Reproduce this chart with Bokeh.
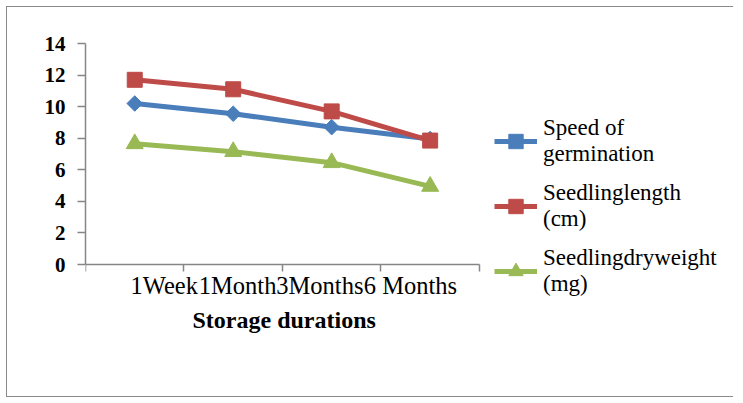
from bokeh.plotting import figure
from bokeh.models import (Range1d, FixedTicker, Legend, LegendItem, ColumnDataSource, Title)
from bokeh.embed import file_html
from bokeh.resources import INLINE
import math

# ---- data ----
categories = ["1Week", "1Month", "3Months", "6 Months"]
speed_of_germination = [10.2, 9.55, 8.7, 7.95]
seedling_length = [11.7, 11.1, 9.7, 7.85]
seedling_dry_weight = [7.65, 7.15, 6.45, 4.95]
y_ticks = [0, 2, 4, 6, 8, 10, 12, 14]
y_max = 14
series_labels = ["Speed of\ngermination", "Seedlinglength\n(cm)", "Seedlingdryweight\n(mg)"]
x_title = "Storage durations"

# ---- layout constants ----
label_pos = [0.80, 1.545, 2.38, 3.30]   # where the crowded category labels sit
X_VIEW_END = 6.54     # frame is widened (beyond the axis) to host the legend
Y_VIEW_START = -2.47  # frame is extended below zero to host the legend
W, H = 727, 391
AXIS = "#868686"
SERIF = "Liberation Serif"

n = len(categories)
xs = [i + 0.5 for i in range(n)]          # category slot centres
boundaries = list(range(n + 1))           # category slot edges

src = ColumnDataSource(dict(x=xs, cat=categories, s=speed_of_germination,
                            l=seedling_length, d=seedling_dry_weight))

p = figure(width=W, height=H, x_range=Range1d(0, X_VIEW_END),
           y_range=Range1d(Y_VIEW_START, y_max),
           output_backend="svg", toolbar_location=None,
           min_border_left=78, min_border_right=5,
           min_border_top=36, min_border_bottom=95)
p.background_fill_color = "white"
p.border_fill_color = "white"
p.outline_line_color = None
p.grid.visible = False
p.styles = {"border-left": "1px solid #8a8a8a", "border-top": "1px solid #8a8a8a",
            "border-bottom": "1px solid #8a8a8a", "margin-left": "6px",
            "margin-top": "6px"}

# y axis
ya = p.yaxis[0]
ya.bounds = (0, y_max)
ya.ticker = FixedTicker(ticks=y_ticks, minor_ticks=[])
ya.axis_line_color = AXIS
ya.axis_line_width = 1.5
ya.major_tick_line_color = AXIS
ya.major_tick_line_width = 1.5
ya.major_tick_out = 8
ya.major_tick_in = 0
ya.major_label_standoff = 12
ya.major_label_text_font = SERIF
ya.major_label_text_font_style = "bold"
ya.major_label_text_font_size = "21px"
ya.major_label_text_color = "black"

# x axis (drawn at y = 0)
xa = p.xaxis[0]
xa.fixed_location = 0
xa.bounds = (0, n)
xa.ticker = FixedTicker(ticks=label_pos, minor_ticks=boundaries)
xa.major_label_overrides = {pos: c for pos, c in zip(label_pos, categories)}
xa.axis_line_color = AXIS
xa.axis_line_width = 1.5
xa.major_tick_line_color = None
xa.minor_tick_line_color = AXIS
xa.minor_tick_line_width = 1.5
xa.minor_tick_out = 7
xa.minor_tick_in = 0
xa.major_label_standoff = 0
xa.major_label_text_font = SERIF
xa.major_label_text_font_size = "24.5px"
xa.major_label_text_color = "black"

# x axis title
t = Title(text=x_title, align="left", offset=107, standoff=3,
          text_font=SERIF, text_font_style="bold", text_font_size="24px",
          text_color="black")
p.below.insert(0, t)

specs = [("s", "#4A7EBB", "square", 11, math.pi / 4),
         ("l", "#BE4B48", "square", 15, 0),
         ("d", "#98B954", "triangle", 17, 0)]
items = []
for (col, color, marker, size, ang), lab in zip(specs, series_labels):
    ln = p.line("x", col, source=src, line_color=color, line_width=5)
    sc = p.scatter("x", col, source=src, marker=marker, size=size, angle=ang,
                   fill_color=color, line_color=color)
    items.append(LegendItem(label=lab, renderers=[ln, sc]))

legend = Legend(items=items, location=(409, 6), glyph_width=43, glyph_height=36,
                label_standoff=6, spacing=13, padding=0, margin=0,
                border_line_color=None, background_fill_alpha=0,
                label_text_font=SERIF, label_text_font_size="23px",
                label_text_color="black")
p.add_layout(legend)

open("out.html", "w").write(file_html(p, INLINE))
